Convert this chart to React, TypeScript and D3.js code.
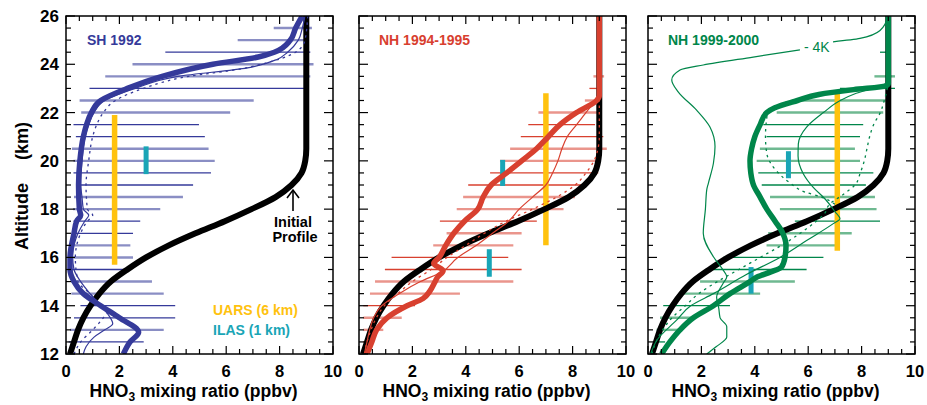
import React from "react";
import * as d3 from "d3";

type P = [number, number]; // [altitude km, HNO3 ppbv]
type Bar = [number, number, number, number]; // [altitude, lo, hi, light(1)/dark(0)]
type VBar = [number, number, number]; // [ppbv, alt bottom, alt top]

const X_TICKS = [0, 2, 4, 6, 8, 10];
const Y_TICKS = [12, 14, 16, 18, 20, 22, 24, 26];
const TITLES = ["SH 1992", "NH 1994-1995", "NH 1999-2000"];

const INITIAL: P[] = [[12,0.15],[12.5,0.3],[13,0.45],[13.5,0.65],[14,0.92],[14.5,1.25],[15,1.68],[15.5,2.3],[16,3.0],[16.5,3.85],[17,4.85],[17.5,5.95],[18,6.95],[18.5,7.85],[19,8.45],[19.5,8.82],[20,8.96],[20.5,9.0],[26,9.0]];

const SH_THICK: P[] = [[12,2.15],[12.5,2.4],[12.9,2.72],[13.5,2.0],[14,1.3],[14.5,0.65],[15,0.3],[15.5,0.15],[16,0.15],[17,0.3],[17.5,0.4],[17.75,0.55],[18,0.5],[19,0.47],[20,0.52],[21,0.65],[21.5,0.77],[22,0.95],[22.5,1.3],[23,2.3],[23.5,3.6],[24,5.5],[24.3,7.2],[24.5,7.8],[25,8.4],[25.5,8.6],[26,8.85]];
const SH_THIN: P[] = [[12,0.65],[12.3,0.75],[12.7,1.05],[13,1.45],[13.25,1.75],[13.6,1.6],[14,1.3],[14.5,0.9],[15,0.55],[15.5,0.3],[16,0.25],[17,0.45],[17.5,0.7],[17.75,0.85],[18,0.65],[18.5,0.6],[19,0.55],[20,0.6],[21,0.72],[21.5,0.85],[22,1.05],[22.5,1.45],[23,2.6],[23.5,4.2],[23.85,6.8],[24.2,7.9],[24.5,8.3],[25,8.7],[25.5,8.85],[26,8.95]];
const SH_DOT: P[] = [[12,0.3],[12.5,0.55],[13,1.0],[13.5,1.4],[13.8,1.6],[14,1.35],[14.5,0.9],[15,0.45],[16,0.35],[17,0.55],[17.5,0.8],[17.75,1.0],[18,0.8],[19,0.75],[20,0.85],[21,1.0],[21.5,1.15],[22,1.4],[22.5,1.85],[23,2.9],[23.5,4.6],[23.8,6.5],[24,7.3],[24.5,8.6],[25,8.95],[26,9.05]];
const SH_BARS: Bar[] = [[25.5,7.78,9.21,1],[25,6.43,9.09,1],[24.5,3.72,9.15,0],[24,2.49,9.27,1],[23.5,1.47,9.15,1],[23,0.88,9.09,0],[22.5,0.51,7.03,1],[22,0.57,6.15,1],[21.5,0.28,4.98,0],[21,0.37,5.2,0],[20.5,0.22,5.34,1],[20,0.28,5.57,1],[19.5,0.28,5.43,0],[19,0.41,4.76,0],[18.5,0.3,4.38,1],[18,0.26,3.53,1],[17.5,0.28,2.78,0],[17,0.28,2.51,0],[16.5,0.28,2.41,1],[16,0.28,2.51,1],[15.5,0.2,2.28,0],[15,0.2,3.22,1],[14.5,0.2,3.66,1],[14,0.54,4.09,0],[13.5,0.3,4.09,0],[13,0.15,3.66,1],[12.5,0.1,2.91,0]];
const SH_UARS: VBar[] = [[1.82,15.7,21.9]];
const SH_ILAS: VBar[] = [[3.0,19.45,20.6]];

const NH95_THICK: P[] = [[12,0.3],[12.5,0.48],[13,0.66],[13.5,1.05],[14,1.8],[14.3,2.4],[14.6,2.65],[15,2.85],[15.2,2.95],[15.45,3.15],[15.75,2.8],[16,3.0],[16.5,3.25],[17,3.55],[17.5,3.95],[18,4.45],[18.5,4.65],[19,4.95],[19.5,5.53],[20,6.09],[20.5,6.65],[21,7.09],[21.5,7.53],[22,8.15],[22.5,8.9],[22.7,9.0],[26,9.0]];
const NH95_THIN: P[] = [[12,0.2],[12.5,0.3],[13,0.4],[13.5,0.55],[14,0.85],[14.5,1.5],[15,2.3],[15.4,3.1],[16,3.7],[16.5,4.4],[17,5.0],[17.5,5.6],[18,6.0],[18.5,6.5],[19,7.0],[19.5,7.25],[20,7.45],[20.5,7.6],[21,7.8],[21.5,8.15],[22,8.5],[22.6,8.9],[23,9.0],[26,9.0]];
const NH95_DOT: P[] = [[12,0.2],[12.5,0.3],[13,0.45],[13.5,0.65],[14,0.95],[14.5,1.45],[15,2.0],[15.5,2.7],[16,3.3],[16.5,4.0],[17,4.7],[17.5,5.5],[18,6.5],[18.5,7.4],[19,8.1],[19.5,8.5],[20,8.8],[20.5,8.95],[21,9.0],[26,9.0]];
const NH95_BARS: Bar[] = [[23.5,8.78,9.18,1],[23,8.63,9.0,0],[22.5,8.46,9.09,1],[22,6.72,8.96,1],[21.5,6.34,8.84,0],[21,6.06,9.15,0],[20.5,5.66,9.28,1],[20,5.28,9.03,1],[19.5,4.91,8.96,0],[19,4.09,8.53,0],[18.5,3.9,8.09,1],[18,3.66,7.66,1],[17.5,3.03,6.66,0],[17,3.28,6.09,1],[16.5,2.78,5.78,1],[16,1.22,5.59,0],[15.5,0.97,6.09,0],[15,0.6,5.78,1],[14.5,0.41,3.78,1],[14,0.16,2.1,0],[13.5,0.16,1.6,1],[13,0.16,0.91,1],[12.5,0.16,0.54,0]];
const NH95_UARS: VBar[] = [[7.0,16.5,22.8]];
const NH95_ILAS: VBar[] = [[5.38,18.96,20.04],[4.88,15.2,16.34]];

const NH00_THICK: P[] = [[12,0.51],[12.5,0.82],[13,1.2],[13.5,1.7],[14,2.45],[14.5,3.07],[15,3.82],[15.2,4.1],[15.4,4.6],[15.6,5.0],[16,5.13],[16.5,5.17],[17,5.05],[17.5,4.76],[18,4.45],[18.5,4.2],[19,3.95],[19.5,3.85],[20,3.82],[20.5,3.88],[21,4.0],[21.5,4.2],[22,4.45],[22.2,4.75],[22.5,5.6],[22.75,6.4],[22.95,7.7],[23.1,8.9],[23.2,9.0],[26,9.0]];
const NH00_THIN: P[] = [[12,0.1],[12.6,0.35],[13.4,1.07],[14,1.6],[14.5,2.45],[15.3,3.7],[16,4.94],[16.7,5.94],[17.4,6.94],[17.6,7.19],[17.9,7.0],[18.4,6.65],[18.9,6.19],[19.5,5.8],[20.2,5.62],[20.7,5.63],[21.4,5.94],[22,6.57],[22.5,7.2],[22.8,7.8],[23.1,8.7],[23.3,9.0],[26,9.0]];
const NH00_DOT_A: P[] = [[12,0.15],[12.5,0.3],[13,0.55],[13.5,0.9],[14,1.4],[14.5,1.9],[15,2.6],[15.5,3.4],[16,4.2],[16.5,5.0],[17,5.7],[17.5,6.3],[17.8,6.6],[18.2,6.8],[18.6,7.3],[19,7.75],[19.5,7.95],[20,8.1],[20.5,8.2],[21,8.3],[21.5,8.45],[22,8.7],[22.5,8.85],[23.2,9.0]];
const NH00_DOT_B: P[] = [[18.2,7.0],[18.5,6.5],[18.7,5.9],[19.1,5.3],[19.6,4.8],[20.3,4.45],[21,4.4],[21.8,4.45],[22.2,4.7],[22.5,5.4],[22.8,6.8],[23.1,8.6]];
const NH00_4K_LOW: P[] = [[12,2.2],[12.3,2.55],[12.7,2.95],[13.13,2.95],[13.5,2.7],[13.9,2.65],[14.35,2.57],[14.94,2.82],[15.2,2.95],[15.5,2.8],[16.03,2.45],[17,2.07],[18,2.15],[18.8,2.2],[19.07,2.26],[19.9,2.45],[20.59,2.51],[21.4,2.32],[22.1,1.82],[22.86,1.13],[23.35,0.89],[23.76,1.2],[23.97,2.07],[24.3,3.94],[24.6,5.69]];
const NH00_4K_HIGH: P[] = [[24.93,6.93],[25.07,7.94],[25.4,8.69],[26,9.0]];
const NH00_BARS: Bar[] = [[24.5,8.69,9.0,0],[23.5,8.48,9.25,1],[23,7.19,9.25,0],[22.5,5.57,8.94,1],[22,4.82,8.81,1],[21.5,4.32,8.06,0],[21,4.44,7.94,0],[20.5,4.19,7.75,1],[20,4.07,7.94,1],[19.5,4.13,8.44,0],[19,4.26,8.16,0],[18.5,4.57,8.5,1],[18,4.94,8.56,1],[17.5,5.5,8.69,0],[17,4.5,7.63,1],[16.5,4.44,7.07,1],[16,2.82,6.57,0],[15.5,2.45,5.94,0],[15,1.95,5.5,1],[14.5,1.2,4.2,1],[14,0.57,3.07,0],[13.5,0.45,1.7,1],[13,0.32,1.26,1],[12.5,0.2,0.64,0]];
const NH00_UARS: VBar[] = [[7.09,16.28,22.8]];
const NH00_ILAS: VBar[] = [[5.26,19.28,20.4],[3.86,14.5,15.6]];

const FONT = "'Liberation Sans', Arial, Helvetica, sans-serif";
const LEFTS = [66, 359, 648];
const PW = 267;
const TOP = 16;
const BOTTOM = 354;

const ORANGE = "#ffc20e";
const TEAL = "#19a5b6";

interface PanelCfg {
  color: string;
  light: string;
  thick: P[];
  thin: P[][];
  dots: P[][];
  bars: Bar[];
  uars: VBar[];
  ilas: VBar[];
}

const PANELS: PanelCfg[] = [
  { color: "#353a9a", light: "#8a8ec4", thick: SH_THICK, thin: [SH_THIN], dots: [SH_DOT], bars: SH_BARS, uars: SH_UARS, ilas: SH_ILAS },
  { color: "#d8402f", light: "#ea958c", thick: NH95_THICK, thin: [NH95_THIN], dots: [NH95_DOT], bars: NH95_BARS, uars: NH95_UARS, ilas: NH95_ILAS },
  { color: "#00864a", light: "#6fb991", thick: NH00_THICK, thin: [NH00_THIN, NH00_4K_LOW, NH00_4K_HIGH], dots: [NH00_DOT_A, NH00_DOT_B], bars: NH00_BARS, uars: NH00_UARS, ilas: NH00_ILAS },
];

const x = d3.scaleLinear().domain([0, 10]).range([0, PW]);
const y = d3.scaleLinear().domain([12, 26]).range([BOTTOM - TOP, 0]);
const line = d3.line<P>().x((d) => x(d[1])).y((d) => y(d[0])).curve(d3.curveMonotoneY);

const xMinor = d3.range(0, 10.001, 0.5);
const yMinor = d3.range(12, 26.001, 0.5);

function Panel({ cfg, i }: { cfg: PanelCfg; i: number }) {
  const h = BOTTOM - TOP;
  const clip = `clip${i}`;
  return (
    <g transform={`translate(${LEFTS[i]},${TOP})`}>
      <defs>
        <clipPath id={clip}>
          <rect x={0} y={0} width={PW} height={h} />
        </clipPath>
      </defs>
      <g clipPath={`url(#${clip})`}>
        {cfg.bars.map((b, k) => (
          <line key={k} x1={x(b[1])} x2={x(b[2])} y1={y(b[0])} y2={y(b[0])}
            stroke={b[3] ? cfg.light : cfg.color} strokeWidth={b[3] ? 2.4 : 1.3} />
        ))}
        {cfg.uars.map((v, k) => (
          <line key={"u" + k} x1={x(v[0])} x2={x(v[0])} y1={y(v[1])} y2={y(v[2])} stroke={ORANGE} strokeWidth={5.5} />
        ))}
        {cfg.ilas.map((v, k) => (
          <line key={"i" + k} x1={x(v[0])} x2={x(v[0])} y1={y(v[1])} y2={y(v[2])} stroke={TEAL} strokeWidth={5} />
        ))}
        <path d={line(INITIAL) || ""} fill="none" stroke="#000" strokeWidth={6} strokeLinejoin="round" />
        {cfg.thin.map((s, k) => (
          <path key={"t" + k} d={line(s) || ""} fill="none" stroke={cfg.color} strokeWidth={1.2} />
        ))}
        {cfg.dots.map((s, k) => (
          <path key={"d" + k} d={line(s) || ""} fill="none" stroke={cfg.color} strokeWidth={1.3} strokeDasharray="2.5,4" />
        ))}
        <path d={line(cfg.thick) || ""} fill="none" stroke={cfg.color} strokeWidth={5.5} strokeLinejoin="round" />
      </g>
      {xMinor.map((v) => {
        const len = v % 2 === 0 ? 8 : 5;
        return (
          <g key={"x" + v}>
            <line x1={x(v)} x2={x(v)} y1={h} y2={h - len} stroke="#000" strokeWidth={1.2} />
            <line x1={x(v)} x2={x(v)} y1={0} y2={len} stroke="#000" strokeWidth={1.2} />
          </g>
        );
      })}
      {yMinor.map((v) => {
        const len = v % 2 === 0 ? 9 : 5;
        return (
          <g key={"y" + v}>
            <line x1={0} x2={len} y1={y(v)} y2={y(v)} stroke="#000" strokeWidth={1.2} />
            <line x1={PW} x2={PW - len} y1={y(v)} y2={y(v)} stroke="#000" strokeWidth={1.2} />
          </g>
        );
      })}
      <rect x={0} y={0} width={PW} height={h} fill="none" stroke="#000" strokeWidth={1.5} />
      {X_TICKS.map((v) => (
        <text key={"xl" + v} x={x(v)} y={h + 22.5} textAnchor="middle" fontSize={16.5} fontWeight="bold" fontFamily={FONT}>
          {v}
        </text>
      ))}
      <text x={PW / 2 - 6} y={h + 42.5} textAnchor="middle" fontSize={17.5} fontWeight="bold" fontFamily={FONT}>
        HNO<tspan dy={4} fontSize={12}>3</tspan><tspan dy={-4}> mixing ratio (ppbv)</tspan>
      </text>
      <text x={i === 0 ? 21 : 20} y={29} fontSize={14} fontWeight="bold" fill={cfg.color} fontFamily={FONT}>
        {TITLES[i]}
      </text>
    </g>
  );
}

export default function App() {
  return (
    <svg width={927} height={405} style={{ position: "absolute", left: 0, top: 0, background: "#fff" }}
      xmlns="http://www.w3.org/2000/svg">
      <rect x={0} y={0} width={927} height={405} fill="#fff" />
      {PANELS.map((p, i) => (
        <Panel key={i} cfg={p} i={i} />
      ))}
      {Y_TICKS.map((v) => (
        <text key={"yl" + v} x={59} y={y(v) + TOP + 6} textAnchor="end" fontSize={17} fontWeight="bold" fontFamily={FONT}>
          {v}
        </text>
      ))}
      <g transform="translate(28,0) rotate(-90)">
        <text x={-250} y={0} textAnchor="start" fontSize={18} fontWeight="bold" fontFamily={FONT}>Altitude</text>
        <text x={-122} y={0} textAnchor="end" fontSize={18} fontWeight="bold" fontFamily={FONT}>(km)</text>
      </g>
      {/* Initial profile annotation */}
      <line x1={293} x2={293} y1={211} y2={191} stroke="#000" strokeWidth={1.6} />
      <path d="M287,198 L293,190 L299,198" fill="none" stroke="#000" strokeWidth={1.6} />
      <text x={293} y={227} textAnchor="middle" fontSize={14.5} fontWeight="bold" fontFamily={FONT}>Initial</text>
      <text x={295} y={242} textAnchor="middle" fontSize={14.5} fontWeight="bold" fontFamily={FONT}>Profile</text>
      <text x={213} y={315} fontSize={14} fontWeight="bold" fill={ORANGE} fontFamily={FONT}>UARS (6 km)</text>
      <text x={213} y={335} fontSize={14} fontWeight="bold" fill={TEAL} fontFamily={FONT}>ILAS (1 km)</text>
      <text x={804} y={52} fontSize={14} fill="#00864a" fontFamily={FONT}>- 4K</text>
    </svg>
  );
}
